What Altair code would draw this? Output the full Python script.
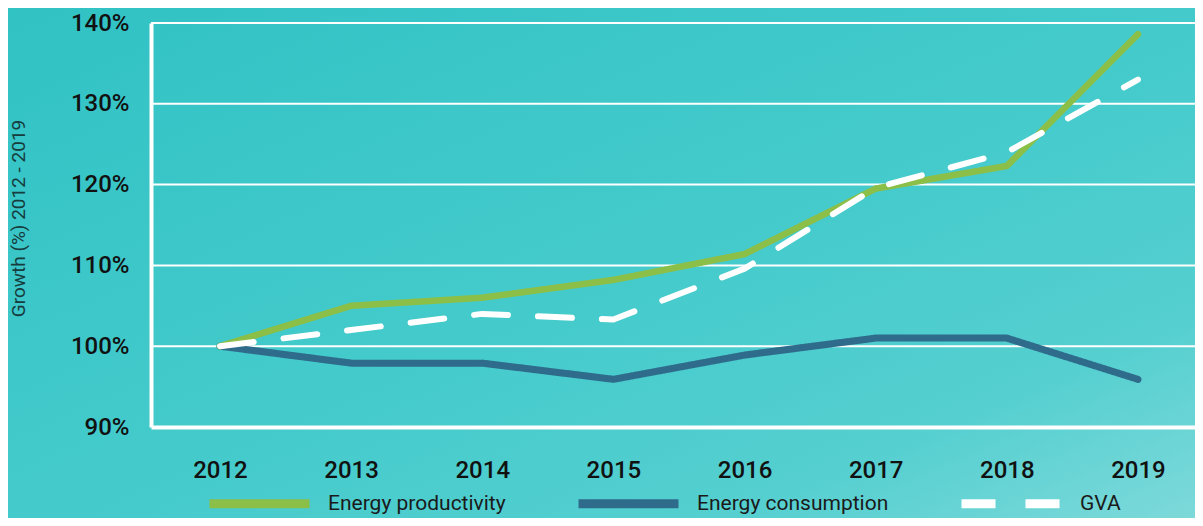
import altair as alt
import pandas as pd

years = [2012, 2013, 2014, 2015, 2016, 2017, 2018, 2019]
energy_productivity = [100, 105, 106, 108.2, 111.4, 119.5, 122.3, 138.6]
energy_consumption = [100, 97.9, 97.9, 95.9, 98.9, 101, 101, 95.9]
gva = [100, 102, 104, 103.3, 109.6, 119.6, 124, 133]
series_names = ["Energy productivity", "Energy consumption", "GVA"]
series_colors = ["#8bbf47", "#2f6b8a", "#ffffff"]
y_ticks = [90, 100, 110, 120, 130, 140]

rows = []
for name, vals in zip(series_names, [energy_productivity, energy_consumption, gva]):
    for yr, v in zip(years, vals):
        rows.append({"year": yr, "value": v, "series": name})
df = pd.DataFrame(rows)

W, H = 1044, 404
PAD_L, PAD_T, PAD_B = 143, 15, 91
FONT = "Roboto"

x_scale = alt.Scale(domain=[2011.474, 2019.435], nice=False, zero=False)
y_scale = alt.Scale(domain=[90, 140], nice=False, zero=False)
color_scale = alt.Scale(domain=series_names, range=series_colors)
dash_scale = alt.Scale(domain=series_names, range=[[1, 0], [1, 0], [34, 30]])

x_axis = alt.Axis(values=years, format="d", grid=False, ticks=False,
                  domainColor="white", domainWidth=4, labelFontSize=24,
                  labelFontWeight=500,
                  labelPadding=31, labelColor="#111111", labelFont=FONT,
                  title=None, zindex=1, labelFlush=False)
y_axis = alt.Axis(values=y_ticks, labelExpr="datum.value + '%'", grid=False,
                  ticks=False, domainColor="white", domainWidth=4,
                  labelFontSize=24, labelFontWeight=500,
                  labelColor="#111111", labelFont=FONT,
                  labelPadding=22, title="Growth (%) 2012 - 2019",
                  titleFontSize=19, titleFontWeight="normal",
                  titleColor="#163c3d", titleFont=FONT, titleX=-133,
                  titleY=195, titleBaseline="middle", titleAlign="center",
                  zindex=1)

legend = alt.Legend(orient="none", legendX=54, legendY=426,
                    direction="horizontal", title=None, symbolType="stroke",
                    symbolSize=10000, symbolStrokeWidth=9,
                    labelFontSize=21, labelColor="#1a1a1a", labelFont=FONT,
                    labelOffset=14, labelLimit=400, labelBaseline="middle",
                    columnPadding=54, padding=0)

bg = alt.Chart(alt.Data(values=[{}])).mark_rect(
    fill=alt.LinearGradient(
        gradient="linear",
        stops=[alt.GradientStop(color="#31c2c4", offset=0),
               alt.GradientStop(color="#46cbcc", offset=0.55),
               alt.GradientStop(color="#55cfd0", offset=0.8),
               alt.GradientStop(color="#7dd9da", offset=1)],
        x1=0, y1=0, x2=1, y2=1)
).encode(x=alt.value(-PAD_L), x2=alt.value(W), y=alt.value(-PAD_T),
         y2=alt.value(H + PAD_B))

grid = alt.Chart(pd.DataFrame({"value": y_ticks[1:]})).mark_rule(
    color="white", strokeWidth=2
).encode(y=alt.Y("value:Q", scale=y_scale, axis=y_axis),
         x=alt.value(0), x2=alt.value(W + 10))


def series_layer(name, width):
    return alt.Chart(df).transform_filter(alt.datum.series == name).mark_line(
        strokeWidth=width, strokeCap="round", strokeJoin="round"
    ).encode(
        x=alt.X("year:Q", scale=x_scale, axis=x_axis),
        y=alt.Y("value:Q", scale=y_scale, axis=y_axis),
        color=alt.Color("series:N", scale=color_scale, legend=legend),
        strokeDash=alt.StrokeDash("series:N", scale=dash_scale, legend=legend),
    )


chart = alt.layer(
    bg, grid,
    series_layer("Energy consumption", 7),
    series_layer("Energy productivity", 6.5),
    series_layer("GVA", 6),
).properties(
    width=W, height=H,
    autosize=alt.AutoSizeParams(type="none"),
    padding={"left": PAD_L, "top": PAD_T, "right": 0, "bottom": PAD_B},
).configure(background="#40c7c8", font=FONT).configure_view(stroke=None)

chart.save("out.html", embed_options={"renderer": "svg", "actions": False})
